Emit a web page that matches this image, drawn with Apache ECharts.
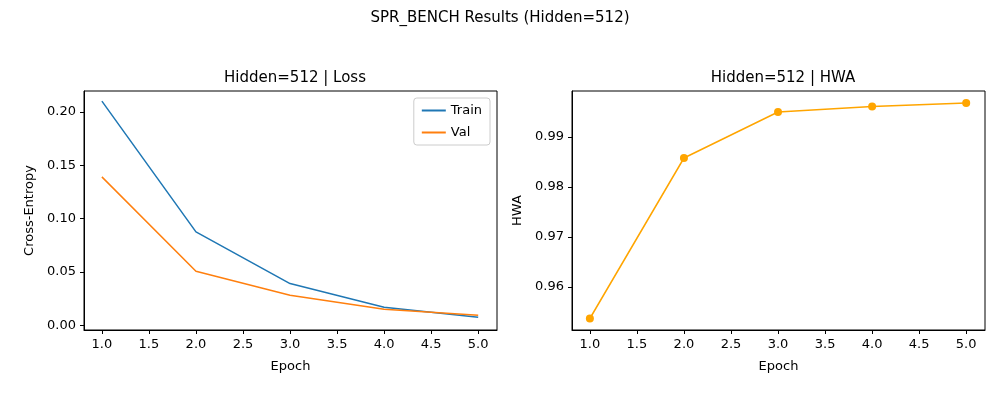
<!DOCTYPE html>
<html>
<head>
<meta charset="utf-8">
<script src="https://cdn.jsdelivr.net/npm/echarts@6/dist/echarts.min.js"></script>
</head>
<body style="margin:0">
<div id="main" style="width:1000px;height:400px;"></div>
<script>
var epochs = [1, 2, 3, 4, 5];
var trainLoss = [0.210, 0.0875, 0.039, 0.0168, 0.0075];
var valLoss = [0.139, 0.0505, 0.028, 0.015, 0.0093];
var hwa = [0.9537, 0.9858, 0.9950, 0.9961, 0.9968];
var xTicks = [1.0, 1.5, 2.0, 2.5, 3.0, 3.5, 4.0, 4.5, 5.0];
var lossTicks = [0, 0.05, 0.10, 0.15, 0.20];
var hwaTicks = [0.96, 0.97, 0.98, 0.99];

var font = 'DejaVu Sans';
function pairs(ys) { return epochs.map(function (e, i) { return [e, ys[i]]; }); }
function xAxis(idx) {
  return {
    type: 'value', gridIndex: idx, min: 0.81, max: 5.2,
    name: 'Epoch', nameLocation: 'middle', nameGap: 30,
    nameTextStyle: { color: '#000', fontFamily: font, fontSize: 13 },
    axisLine: { show: true, onZero: false, lineStyle: { color: '#000' } },
    axisTick: { show: true, customValues: xTicks, length: 4, lineStyle: { color: '#000' } },
    axisLabel: { customValues: xTicks, color: '#000', fontFamily: font, fontSize: 13,
      formatter: function (v) { return v.toFixed(1); } },
    splitLine: { show: false }
  };
}
function yAxis(idx, mn, mx, ticks, name, dec, gap) {
  return {
    type: 'value', gridIndex: idx, min: mn, max: mx,
    name: name, nameLocation: 'middle', nameGap: gap,
    nameTextStyle: { color: '#000', fontFamily: font, fontSize: 13 },
    axisLine: { show: true, onZero: false, lineStyle: { color: '#000' } },
    axisTick: { show: true, customValues: ticks, length: 4, lineStyle: { color: '#000' } },
    axisLabel: { customValues: ticks, color: '#000', fontFamily: font, fontSize: 13,
      formatter: function (v) { return v.toFixed(dec); } },
    splitLine: { show: false }
  };
}
var chart = echarts.init(document.getElementById('main'));
chart.setOption({
  animation: false,
  backgroundColor: '#fff',
  title: [
    { text: 'SPR_BENCH Results (Hidden=512)', left: 'center', top: 6,
      textStyle: { fontFamily: font, fontSize: 15, fontWeight: 'normal', color: '#000' } },
    { text: 'Hidden=512 | Loss', left: 290, top: 66, textAlign: 'center',
      textStyle: { fontFamily: font, fontSize: 15, fontWeight: 'normal', color: '#000' } },
    { text: 'Hidden=512 | HWA', left: 778, top: 66, textAlign: 'center',
      textStyle: { fontFamily: font, fontSize: 15, fontWeight: 'normal', color: '#000' } }
  ],
  grid: [
    { left: 84, top: 91, width: 413, height: 239, show: true, borderColor: '#000', borderWidth: 1 },
    { left: 572, top: 91, width: 413, height: 239, show: true, borderColor: '#000', borderWidth: 1 }
  ],
  legend: {
    data: ['Train', 'Val'], orient: 'vertical', right: 510, top: 98,
    itemWidth: 24, itemHeight: 2, itemGap: 9, icon: 'rect',
    padding: [6, 8], borderColor: '#ccc', borderWidth: 1, borderRadius: 3,
    textStyle: { fontFamily: font, fontSize: 13, color: '#000' }
  },
  xAxis: [xAxis(0), xAxis(1)],
  yAxis: [
    yAxis(0, -0.0045, 0.2195, lossTicks, 'Cross-Entropy', 2, 48),
    yAxis(1, 0.9514, 0.9992, hwaTicks, 'HWA', 2, 48)
  ],
  series: [
    { name: 'Train', type: 'line', xAxisIndex: 0, yAxisIndex: 0, data: pairs(trainLoss),
      showSymbol: false, lineStyle: { color: '#1f77b4', width: 1.5 }, itemStyle: { color: '#1f77b4' } },
    { name: 'Val', type: 'line', xAxisIndex: 0, yAxisIndex: 0, data: pairs(valLoss),
      showSymbol: false, lineStyle: { color: '#ff7f0e', width: 1.5 }, itemStyle: { color: '#ff7f0e' } },
    { name: 'HWA', type: 'line', xAxisIndex: 1, yAxisIndex: 1, data: pairs(hwa),
      symbol: 'circle', symbolSize: 8, lineStyle: { color: '#ffa500', width: 1.5 }, itemStyle: { color: '#ffa500' } }
  ]
});
</script>
</body>
</html>
